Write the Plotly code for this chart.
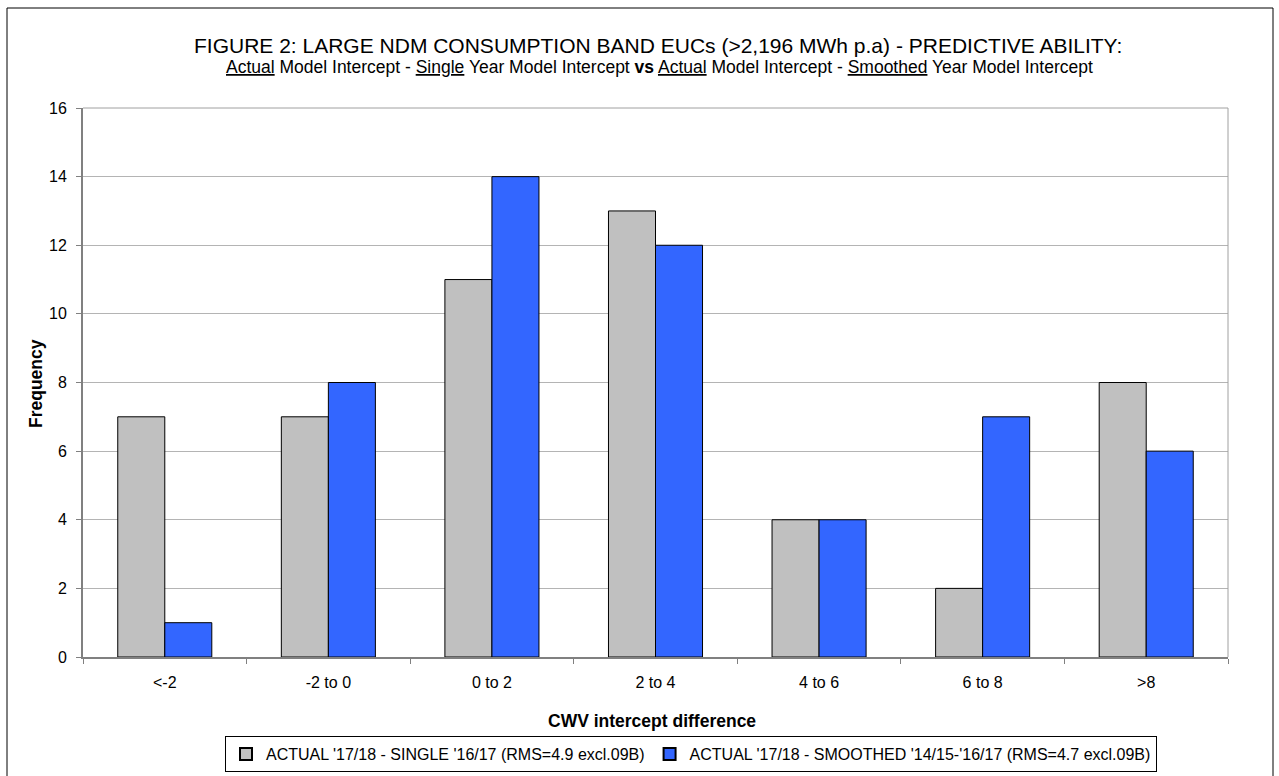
import plotly.graph_objects as go

# Frequency of CWV intercept differences per band
bands = ["<-2", "-2 to 0", "0 to 2", "2 to 4", "4 to 6", "6 to 8", ">8"]
single_year = [7, 7, 11, 13, 4, 2, 8]
smoothed_year = [1, 8, 14, 12, 4, 7, 6]

name_single = "ACTUAL '17/18 - SINGLE '16/17 (RMS=4.9 excl.09B)"
name_smoothed = "ACTUAL '17/18 - SMOOTHED '14/15-'16/17 (RMS=4.7 excl.09B)"

FONT = "Liberation Sans, Arial, sans-serif"

fig = go.Figure()
fig.add_trace(go.Bar(
    x=bands, y=single_year, name=name_single,
    marker=dict(color="#C0C0C0", line=dict(color="#000000", width=1)),
))
fig.add_trace(go.Bar(
    x=bands, y=smoothed_year, name=name_smoothed,
    marker=dict(color="#3366FF", line=dict(color="#000000", width=1)),
))

W, H = 1279, 776
L, R, T, B = 83, 51, 108, 119
pw, ph = W - L - R, H - T - B


def px_x(p):
    return (p - L) / pw


def px_y(p):
    return (H - B - p) / ph


def label(text, x, y, size, angle=0):
    return dict(text=text, xref="paper", yref="paper", x=px_x(x), y=px_y(y),
                xanchor="center", yanchor="middle", showarrow=False,
                textangle=angle, font=dict(size=size, family=FONT, color="#000000"))


fig.update_layout(
    width=W, height=H,
    margin=dict(l=L, r=R, t=T, b=B, pad=0, autoexpand=False),
    paper_bgcolor="white", plot_bgcolor="white",
    font=dict(family=FONT, size=16, color="#000000"),
    barmode="group", bargap=0.425, bargroupgap=0,
    showlegend=True,
    legend=dict(
        orientation="h", x=691 / W, xanchor="center", xref="container",
        y=1 - 736 / H, yanchor="top", yref="container",
        bordercolor="#000000", borderwidth=1,
        font=dict(family=FONT, size=16),
        itemsizing="constant", traceorder="normal",
        itemwidth=30, tracegroupgap=0,
    ),
    xaxis=dict(
        tickson="boundaries", ticks="outside", ticklen=5, tickcolor="#808080",
        showline=True, linecolor="#808080", linewidth=2, mirror=False,
        tickfont=dict(size=16), showgrid=False, ticklabelstandoff=10,
    ),
    yaxis=dict(
        range=[0, 16], dtick=2, ticks="outside", ticklen=5, tickcolor="#808080",
        showline=True, linecolor="#808080", linewidth=2,
        showgrid=True, gridcolor="#B4B4B4", gridwidth=1,
        tickfont=dict(size=16), zeroline=False, ticklabelstandoff=6,
    ),
    annotations=[
        label("FIGURE 2: LARGE NDM CONSUMPTION BAND EUCs (>2,196 MWh p.a) - PREDICTIVE ABILITY:",
              658, 45, 21),
        label("<u>Actual</u> Model Intercept - <u>Single</u> Year Model Intercept <b>vs</b> "
              "<u>Actual</u> Model Intercept - <u>Smoothed</u> Year Model Intercept",
              659, 67, 17.5),
        label("<b>CWV intercept difference</b>", 652, 721, 17.5),
        label("<b>Frequency</b>", 36, 384, 17.5, angle=-90),
    ],
    shapes=[
        # plot area border (top / right)
        dict(type="line", xref="paper", yref="paper", x0=0, x1=1, y0=1, y1=1,
             line=dict(color="#A0A0A0", width=1)),
        dict(type="line", xref="paper", yref="paper", x0=1, x1=1, y0=0, y1=1,
             line=dict(color="#A0A0A0", width=1)),
        # outer chart frame
        dict(type="rect", xref="paper", yref="paper",
             x0=px_x(7), x1=px_x(1273), y0=px_y(8), y1=px_y(800),
             line=dict(color="#000000", width=1), layer="below"),
    ],
)

fig.write_html("out.html")
